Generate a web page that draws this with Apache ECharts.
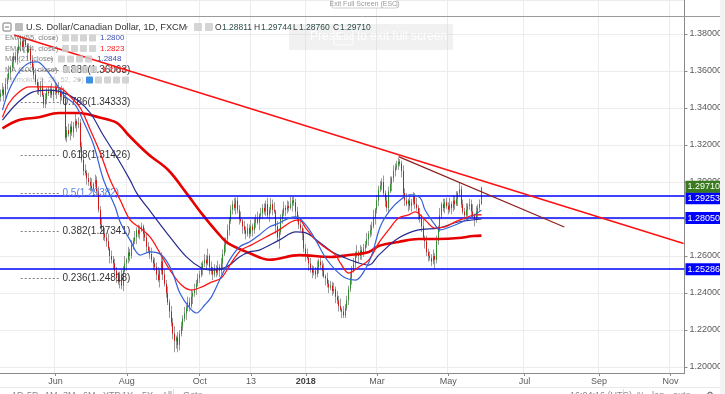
<!DOCTYPE html>
<html><head><meta charset="utf-8">
<script src="https://cdn.jsdelivr.net/npm/echarts@6/dist/echarts.min.js"></script>
<style>html,body{margin:0;padding:0;background:#fff;overflow:hidden}#c{width:725px;height:394px}</style>
</head><body><div id="c"></div>
<script>
// ---------------- DATA ----------------
const dayCount = 413; // trading-day slots on the time axis (incl. empty future space)
const tickLabels = [[33,'Jun'],[76,'Aug'],[120,'Oct'],[151,'13'],[184,'2018'],[227,'Mar'],[270,'May'],[316,'Jul'],[361,'Sep'],[404,'Nov']];

const opens = [
1.3460,1.3480,1.3500,1.3470,1.3530,1.3560,1.3590,1.3620,1.3650,1.3680,
1.3660,1.3710,1.3740,1.3760,1.3730,1.3770,1.3740,1.3700,1.3720,1.3660,
1.3620,1.3580,1.3540,1.3510,1.3490,1.3520,1.3470,1.3420,1.3450,1.3490,
1.3480,1.3500,1.3470,1.3490,1.3510,1.3480,1.3500,1.3460,1.3490,1.3450,
1.3240,1.3280,1.3260,1.3300,1.3270,1.3300,1.3330,1.3310,1.3320,1.3190,
1.3120,1.3060,1.3050,1.3020,1.3000,1.2980,1.2960,1.2990,1.3010,1.2950,
1.2850,1.2770,1.2750,1.2720,1.2700,1.2680,1.2640,1.2600,1.2580,1.2560,
1.2520,1.2480,1.2460,1.2500,1.2440,1.2520,1.2560,1.2580,1.2620,1.2600,
1.2660,1.2680,1.2700,1.2740,1.2720,1.2740,1.2760,1.2720,1.2700,1.2650,
1.2630,1.2610,1.2580,1.2560,1.2540,1.2500,1.2470,1.2520,1.2570,1.2500,
1.2450,1.2400,1.2350,1.2300,1.2240,1.2180,1.2140,1.2160,1.2120,1.2180,
1.2220,1.2260,1.2290,1.2320,1.2350,1.2330,1.2380,1.2400,1.2420,1.2450,
1.2480,1.2500,1.2530,1.2560,1.2580,1.2560,1.2600,1.2540,1.2520,1.2500,
1.2530,1.2510,1.2540,1.2520,1.2560,1.2610,1.2660,1.2690,1.2740,1.2790,
1.2850,1.2880,1.2860,1.2900,1.2850,1.2800,1.2790,1.2760,1.2740,1.2720,
1.2750,1.2720,1.2760,1.2740,1.2780,1.2800,1.2780,1.2820,1.2830,1.2860,
1.2840,1.2880,1.2820,1.2850,1.2880,1.2850,1.2840,1.2760,1.2700,1.2730,
1.2800,1.2830,1.2860,1.2850,1.2870,1.2860,1.2880,1.2900,1.2890,1.2840,
1.2800,1.2770,1.2750,1.2720,1.2640,1.2600,1.2590,1.2560,1.2530,1.2510,
1.2520,1.2500,1.2540,1.2570,1.2550,1.2520,1.2490,1.2480,1.2450,1.2430,
1.2440,1.2410,1.2420,1.2380,1.2360,1.2330,1.2310,1.2300,1.2280,1.2320,
1.2360,1.2420,1.2480,1.2530,1.2560,1.2600,1.2620,1.2600,1.2630,1.2610,
1.2640,1.2660,1.2690,1.2720,1.2740,1.2760,1.2810,1.2850,1.2900,1.2960,
1.2980,1.3000,1.2940,1.2900,1.2860,1.2950,1.2990,1.3020,1.3060,1.3080,
1.3090,1.3110,1.3100,1.3060,1.2940,1.2900,1.2880,1.2900,1.2870,1.2890,
1.2920,1.2880,1.2860,1.2830,1.2800,1.2760,1.2700,1.2680,1.2620,1.2600,
1.2590,1.2570,1.2600,1.2580,1.2680,1.2740,1.2820,1.2880,1.2860,1.2890,
1.2870,1.2850,1.2880,1.2860,1.2900,1.2880,1.2910,1.2940,1.2960,1.2880,
1.2840,1.2820,1.2850,1.2870,1.2880,1.2840,1.2820,1.2800,1.2840,1.2860,
1.28811];

const closes = [
1.3480,1.3500,1.3470,1.3530,1.3560,1.3590,1.3620,1.3650,1.3680,1.3660,
1.3710,1.3740,1.3760,1.3730,1.3770,1.3740,1.3700,1.3720,1.3660,1.3620,
1.3580,1.3540,1.3510,1.3490,1.3520,1.3470,1.3420,1.3450,1.3490,1.3480,
1.3500,1.3470,1.3490,1.3510,1.3480,1.3500,1.3460,1.3490,1.3450,1.3240,
1.3280,1.3260,1.3300,1.3270,1.3300,1.3330,1.3310,1.3320,1.3190,1.3120,
1.3060,1.3050,1.3020,1.3000,1.2980,1.2960,1.2990,1.3010,1.2950,1.2850,
1.2770,1.2750,1.2720,1.2700,1.2680,1.2640,1.2600,1.2580,1.2560,1.2520,
1.2480,1.2460,1.2500,1.2440,1.2520,1.2560,1.2580,1.2620,1.2600,1.2660,
1.2680,1.2700,1.2740,1.2720,1.2740,1.2760,1.2720,1.2700,1.2650,1.2630,
1.2610,1.2580,1.2560,1.2540,1.2500,1.2470,1.2520,1.2570,1.2500,1.2450,
1.2400,1.2350,1.2300,1.2240,1.2180,1.2140,1.2160,1.2120,1.2180,1.2220,
1.2260,1.2290,1.2320,1.2350,1.2330,1.2380,1.2400,1.2420,1.2450,1.2480,
1.2500,1.2530,1.2560,1.2580,1.2560,1.2600,1.2540,1.2520,1.2500,1.2530,
1.2510,1.2540,1.2520,1.2560,1.2610,1.2660,1.2690,1.2740,1.2790,1.2850,
1.2880,1.2860,1.2900,1.2850,1.2800,1.2790,1.2760,1.2740,1.2720,1.2750,
1.2720,1.2760,1.2740,1.2780,1.2800,1.2780,1.2820,1.2830,1.2860,1.2840,
1.2880,1.2820,1.2850,1.2880,1.2850,1.2840,1.2760,1.2700,1.2730,1.2800,
1.2830,1.2860,1.2850,1.2870,1.2860,1.2880,1.2900,1.2890,1.2840,1.2800,
1.2770,1.2750,1.2720,1.2640,1.2600,1.2590,1.2560,1.2530,1.2510,1.2520,
1.2500,1.2540,1.2570,1.2550,1.2520,1.2490,1.2480,1.2450,1.2430,1.2440,
1.2410,1.2420,1.2380,1.2360,1.2330,1.2310,1.2300,1.2280,1.2320,1.2360,
1.2420,1.2480,1.2530,1.2560,1.2600,1.2620,1.2600,1.2630,1.2610,1.2640,
1.2660,1.2690,1.2720,1.2740,1.2760,1.2810,1.2850,1.2900,1.2960,1.2980,
1.3000,1.2940,1.2900,1.2860,1.2950,1.2990,1.3020,1.3060,1.3080,1.3090,
1.3110,1.3100,1.3060,1.2940,1.2900,1.2880,1.2900,1.2870,1.2890,1.2920,
1.2880,1.2860,1.2830,1.2800,1.2760,1.2700,1.2680,1.2620,1.2600,1.2590,
1.2570,1.2600,1.2580,1.2680,1.2740,1.2820,1.2880,1.2860,1.2890,1.2870,
1.2850,1.2880,1.2860,1.2900,1.2880,1.2910,1.2940,1.2960,1.2880,1.2840,
1.2820,1.2850,1.2870,1.2880,1.2840,1.2820,1.2800,1.2840,1.2860,1.2881,
1.29710];

const highs = [
1.3500,1.3535,1.3515,1.3560,1.3585,1.3630,1.3630,1.3680,1.3700,1.3705,
1.3730,1.3775,1.3793,1.3790,1.3785,1.3780,1.3750,1.3750,1.3740,1.3685,
1.3640,1.3615,1.3555,1.3540,1.3545,1.3560,1.3480,1.3480,1.3510,1.3515,
1.3520,1.3535,1.3505,1.3540,1.3535,1.3540,1.3510,1.3520,1.3510,1.3475,
1.3300,1.3315,1.3315,1.3330,1.3325,1.3370,1.3340,1.3350,1.3340,1.3215,
1.3140,1.3095,1.3065,1.3050,1.3025,1.3020,1.3000,1.3040,1.3030,1.2975,
1.2870,1.2805,1.2765,1.2750,1.2725,1.2720,1.2650,1.2630,1.2600,1.2585,
1.2540,1.2515,1.2515,1.2530,1.2545,1.2600,1.2590,1.2650,1.2640,1.2685,
1.2700,1.2735,1.2755,1.2770,1.2765,1.2780,1.2770,1.2750,1.2720,1.2675,
1.2650,1.2645,1.2595,1.2590,1.2565,1.2540,1.2530,1.2620,1.2590,1.2525,
1.2470,1.2435,1.2365,1.2330,1.2265,1.2220,1.2170,1.2190,1.2200,1.2245,
1.2280,1.2325,1.2335,1.2380,1.2375,1.2420,1.2410,1.2450,1.2470,1.2505,
1.2520,1.2565,1.2575,1.2610,1.2605,1.2640,1.2610,1.2570,1.2540,1.2555,
1.2550,1.2575,1.2555,1.2590,1.2635,1.2700,1.2700,1.2770,1.2810,1.2875,
1.2900,1.2915,1.2916,1.2920,1.2875,1.2840,1.2800,1.2790,1.2760,1.2775,
1.2770,1.2795,1.2775,1.2810,1.2825,1.2840,1.2830,1.2860,1.2880,1.2885,
1.2900,1.2915,1.2865,1.2914,1.2905,1.2890,1.2850,1.2790,1.2750,1.2825,
1.2850,1.2895,1.2875,1.2900,1.2895,1.2920,1.2920,1.2920,1.2910,1.2865,
1.2820,1.2805,1.2765,1.2750,1.2665,1.2640,1.2600,1.2590,1.2550,1.2545,
1.2540,1.2575,1.2585,1.2600,1.2575,1.2560,1.2500,1.2510,1.2470,1.2465,
1.2460,1.2455,1.2435,1.2410,1.2385,1.2370,1.2320,1.2330,1.2340,1.2385,
1.2440,1.2515,1.2545,1.2590,1.2625,1.2660,1.2630,1.2660,1.2650,1.2665,
1.2680,1.2725,1.2735,1.2770,1.2785,1.2850,1.2860,1.2930,1.2980,1.3005,
1.3020,1.3035,1.2955,1.2930,1.2975,1.3030,1.3030,1.3090,1.3100,1.3115,
1.3130,1.3125,1.3115,1.3090,1.2965,1.2940,1.2910,1.2930,1.2910,1.2945,
1.2940,1.2915,1.2875,1.2860,1.2825,1.2800,1.2710,1.2710,1.2640,1.2625,
1.2610,1.2635,1.2615,1.2710,1.2765,1.2860,1.2890,1.2910,1.2910,1.2915,
1.2890,1.2915,1.2895,1.2930,1.2925,1.2950,1.2950,1.2995,1.2980,1.2905,
1.2860,1.2885,1.2885,1.2910,1.2905,1.2880,1.2830,1.2870,1.2880,1.2906,
1.29744];

const lows = [
1.3435,1.3465,1.3435,1.3450,1.3500,1.3550,1.3550,1.3600,1.3620,1.3645,
1.3635,1.3695,1.3705,1.3710,1.3700,1.3730,1.3660,1.3700,1.3630,1.3605,
1.3555,1.3525,1.3475,1.3470,1.3460,1.3460,1.3400,1.3400,1.3420,1.3465,
1.3455,1.3455,1.3435,1.3470,1.3450,1.3470,1.3420,1.3440,1.3420,1.3225,
1.3215,1.3245,1.3225,1.3250,1.3240,1.3290,1.3270,1.3290,1.3160,1.3105,
1.3035,1.3035,1.2985,1.2980,1.2950,1.2950,1.2920,1.2970,1.2920,1.2835,
1.2745,1.2735,1.2685,1.2680,1.2650,1.2630,1.2560,1.2560,1.2530,1.2505,
1.2455,1.2445,1.2425,1.2420,1.2410,1.2510,1.2520,1.2560,1.2570,1.2585,
1.2635,1.2665,1.2665,1.2700,1.2690,1.2730,1.2680,1.2680,1.2620,1.2615,
1.2585,1.2565,1.2525,1.2520,1.2470,1.2460,1.2430,1.2500,1.2470,1.2435,
1.2375,1.2335,1.2265,1.2220,1.2150,1.2080,1.2100,1.2080,1.2090,1.2165,
1.2195,1.2245,1.2255,1.2300,1.2300,1.2320,1.2340,1.2380,1.2390,1.2435,
1.2455,1.2485,1.2495,1.2540,1.2530,1.2550,1.2500,1.2500,1.2470,1.2485,
1.2485,1.2495,1.2485,1.2500,1.2530,1.2600,1.2620,1.2670,1.2710,1.2775,
1.2825,1.2845,1.2825,1.2830,1.2770,1.2780,1.2720,1.2720,1.2690,1.2705,
1.2695,1.2705,1.2705,1.2720,1.2750,1.2770,1.2740,1.2800,1.2800,1.2825,
1.2815,1.2805,1.2785,1.2830,1.2820,1.2830,1.2720,1.2680,1.2640,1.2715,
1.2775,1.2815,1.2815,1.2830,1.2840,1.2850,1.2840,1.2870,1.2810,1.2785,
1.2745,1.2735,1.2685,1.2620,1.2570,1.2580,1.2520,1.2510,1.2480,1.2495,
1.2475,1.2485,1.2505,1.2530,1.2490,1.2480,1.2440,1.2430,1.2400,1.2415,
1.2385,1.2395,1.2345,1.2340,1.2300,1.2300,1.2265,1.2265,1.2265,1.2305,
1.2335,1.2405,1.2445,1.2510,1.2530,1.2590,1.2560,1.2580,1.2580,1.2595,
1.2615,1.2645,1.2655,1.2700,1.2710,1.2750,1.2770,1.2830,1.2870,1.2945,
1.2955,1.2925,1.2865,1.2840,1.2830,1.2940,1.2950,1.3000,1.3030,1.3065,
1.3065,1.3085,1.3025,1.2920,1.2870,1.2870,1.2840,1.2850,1.2840,1.2875,
1.2855,1.2845,1.2795,1.2780,1.2730,1.2690,1.2640,1.2600,1.2570,1.2575,
1.2545,1.2555,1.2530,1.2560,1.2660,1.2730,1.2800,1.2840,1.2830,1.2855,
1.2825,1.2835,1.2825,1.2840,1.2850,1.2870,1.2870,1.2920,1.2860,1.2825,
1.2795,1.2805,1.2815,1.2850,1.2810,1.2810,1.2760,1.2780,1.2810,1.2845,
1.28760];

// Moving averages: [day index, value]
const ma21 = [[1,1.3389],[5,1.3497],[11,1.3595],[17,1.3643],[22,1.3649],[26,1.3622],[32,1.3551],[38,1.3470],[45,1.3416],[50,1.3324],[56,1.3200],[62,1.3011],[69,1.2865],[72,1.2784],[78,1.2686],[84,1.2605],[90,1.2622],[97,1.2605],[103,1.2524],[108,1.2400],[114,1.2319],[118,1.2292],[123,1.2335],[127,1.2378],[132,1.2470],[138,1.2578],[144,1.2649],[150,1.2676],[156,1.2714],[162,1.2757],[168,1.2778],[174,1.2805],[178,1.2811],[184,1.2768],[190,1.2686],[196,1.2589],[202,1.2524],[208,1.2481],[214,1.2470],[220,1.2530],[224,1.2610],[229,1.2760],[235,1.2849],[241,1.2903],[247,1.2930],[253,1.2914],[256,1.2849],[262,1.2768],[265,1.2741],[271,1.2757],[277,1.2778],[283,1.2805],[290,1.2848]];
const ema34 = [[1,1.3350],[5,1.3427],[11,1.3486],[17,1.3514],[23,1.3514],[29,1.3514],[36,1.3508],[42,1.3460],[48,1.3400],[54,1.3281],[60,1.3157],[66,1.3011],[72,1.2903],[78,1.2795],[84,1.2751],[90,1.2703],[96,1.2616],[102,1.2524],[109,1.2443],[115,1.2416],[121,1.2432],[127,1.2459],[133,1.2481],[139,1.2562],[145,1.2632],[151,1.2659],[160,1.2703],[168,1.2741],[175,1.2784],[180,1.2795],[184,1.2751],[190,1.2686],[196,1.2643],[202,1.2605],[205,1.2560],[210,1.2508],[216,1.2541],[222,1.2578],[228,1.2670],[234,1.2741],[240,1.2805],[246,1.2822],[250,1.2838],[256,1.2795],[262,1.2751],[268,1.2757],[274,1.2784],[280,1.2805],[286,1.2822],[290,1.2823]];
const ema55 = [[1,1.3335],[10,1.3427],[19,1.3486],[29,1.3497],[37,1.3486],[46,1.3443],[54,1.3373],[61,1.3265],[70,1.3135],[78,1.3010],[82,1.2940],[91,1.2832],[102,1.2703],[112,1.2595],[121,1.2535],[127,1.2524],[136,1.2540],[144,1.2595],[150,1.2622],[156,1.2632],[168,1.2686],[178,1.2730],[184,1.2725],[192,1.2676],[200,1.2622],[208,1.2589],[216,1.2562],[222,1.2551],[228,1.2605],[240,1.2697],[252,1.2741],[264,1.2751],[276,1.2784],[290,1.2800]];
const ma100 = [[1,1.3290],[11,1.3335],[23,1.3350],[35,1.3373],[47,1.3373],[59,1.3350],[70,1.3320],[77,1.3254],[89,1.3150],[101,1.3065],[112,1.2940],[121,1.2832],[131,1.2724],[137,1.2670],[150,1.2616],[162,1.2580],[180,1.2605],[199,1.2595],[210,1.2605],[222,1.2622],[228,1.2654],[240,1.2676],[252,1.2692],[264,1.2692],[276,1.2697],[285,1.2708],[290,1.2710]];

const trendMain = [[8,1.3795],[412,1.2668]];
const trendShort = [[240,1.3137],[340,1.2757]];
const supportLevels = [1.29253, 1.28050, 1.25286];
const lastPrice = 1.29710;
const fibLevels = [['0.886',1.36063],['0.786',1.34333],['0.618',1.31426],['0.5',1.29382],['0.382',1.27341],['0.236',1.24818]];
const fibSpan = [12, 36];

// ---------------- CHART ----------------
const FONT = 'Liberation Sans, Arial, sans-serif';
const cats = []; for (let i = 0; i < dayCount; i++) cats.push(String(i));
const labelMap = new Map(tickLabels);
const showTick = (idx) => labelMap.has(idx);
const ohlc = opens.map((o, i) => [o, closes[i], lows[i], highs[i]]);
const bodies = opens.map((o, i) => [o, closes[i], Math.min(o, closes[i]), Math.max(o, closes[i])]);

const chart = echarts.init(document.getElementById('c'));

const fibMarks = fibLevels.map(([r, v]) => ([
  { coord: [fibSpan[0], v], label: { show: true, position: 'end', distance: 2, formatter: r + '(' + v.toFixed(5) + ')',
      color: r === '0.5' ? '#5b82de' : '#333', fontSize: 10, fontFamily: FONT } },
  { coord: [fibSpan[1], v] }
]));

const boxLabel = (text, bg, dy) => ({ show: true, position: 'end', distance: 1, formatter: text, color: '#fff',
  backgroundColor: bg, padding: [2, 2, 1, 2], fontSize: 9, fontFamily: FONT, offset: [0, dy] });
const supportMarks = supportLevels.map((v, k) => ({
  yAxis: v,
  lineStyle: { color: '#0000ff', width: 1.5, type: 'solid' },
  label: boxLabel(v.toFixed(5), '#0000ff', k === 0 ? 2.5 : 0)
}));
supportMarks.push({
  yAxis: lastPrice,
  lineStyle: { color: 'rgba(0,0,0,0)', width: 1 },
  label: boxLabel(lastPrice.toFixed(5), '#3a7a1e', -0.5)
});

function maLine(name, data, color, width, z) {
  return { type: 'line', name, data, smooth: 0.35, showSymbol: false, silent: true, z,
    lineStyle: { color, width }, animation: false };
}

// overlay texts (TradingView header / legend)
const gray = 'rgba(95,95,95,0.8)';
function txt(text, x, y, fill, size, extra) {
  return Object.assign({ type: 'text', z: 100, silent: true,
    style: { text, x, y, fill, font: size + 'px ' + FONT, textVerticalAlign: 'middle', verticalAlign: 'middle' } }, extra || {});
}
function box(x, y, w, h, fill, stroke) {
  return { type: 'rect', z: 100, silent: true, shape: { x, y, width: w, height: h, r: 1 },
    style: { fill: fill, stroke: stroke || null, lineWidth: 1 } };
}
function icons(x, y, n, firstFill) {
  const out = [];
  for (let k = 0; k < n; k++) out.push(box(x + k * 9, y - 3.5, 7, 7, k === 0 && firstFill ? firstFill : 'rgba(205,205,205,0.85)'));
  return out;
}
const graphics = [
  { type: 'line', z: 99, silent: true, shape: { x1: 0, y1: 16.5, x2: 725, y2: 16.5 }, style: { stroke: '#9a9a9a', lineWidth: 1 } },
  { type: 'rect', z: 99, silent: true, shape: { x: 720, y: 0, width: 5, height: 394 }, style: { fill: '#f3f3f3' } },
  { type: 'line', z: 99, silent: true, shape: { x1: 0, y1: 387.5, x2: 720, y2: 387.5 }, style: { stroke: '#e8e8e8', lineWidth: 1 } },
  box(332, -1, 65, 9, '#fff', '#cfcfcf'),
  { type: 'text', z: 100, silent: true, style: { text: 'Exit Full Screen (ESC)', x: 364.5, y: 4, fill: '#9a9a9a', font: '7px ' + FONT, textAlign: 'center', align: 'center', textVerticalAlign: 'middle', verticalAlign: 'middle' } },
  box(289, 24, 164, 26, 'rgba(214,214,214,0.35)'),
  txt('Press', 310, 37, 'rgba(255,255,255,0.9)', 12),
  box(334, 29, 19, 16, null, 'rgba(255,255,255,0.9)'),
  txt('Esc', 336, 37, 'rgba(255,255,255,0.9)', 11),
  txt('to exit full screen', 357, 37, 'rgba(255,255,255,0.9)', 12),
  // header
  box(3, 23, 8, 8, '#fff', '#777'),
  { type: 'line', z: 101, silent: true, shape: { x1: 5, y1: 27, x2: 9, y2: 27 }, style: { stroke: '#777', lineWidth: 1 } },
  box(15, 23, 8, 8, '#bbb'),
  txt('U.S. Dollar/Canadian Dollar, 1D, FXCM', 26, 27.5, '#333', 9.2),
  txt('▾', 184, 27.5, '#999', 8),
  box(194, 23, 8, 8, '#d5d5d5'), box(205, 23, 8, 8, '#d5d5d5'),
  txt('O', 215, 27.5, '#333', 8.5), txt('1.28811', 222, 27.5, '#2d4f49', 8.5),
  txt('H', 254, 27.5, '#333', 8.5), txt('1.29744', 261, 27.5, '#2d4f49', 8.5),
  txt('L', 293, 27.5, '#333', 8.5), txt('1.28760', 299, 27.5, '#2d4f49', 8.5),
  txt('C', 333, 27.5, '#333', 8.5), txt('1.29710', 340, 27.5, '#2d4f49', 8.5),
  // indicator legend rows
  txt('EMA (55, close)', 5, 38, gray, 7.5), txt('▾', 52, 38, '#aaa', 6), ...icons(62, 38, 4), txt('1.2800', 100, 38, '#3b4fb5', 8),
  txt('EMA (34, close)', 5, 48.5, gray, 7.5), txt('▾', 52, 48.5, '#aaa', 6), ...icons(62, 48.5, 4), txt('1.2823', 100, 48.5, '#ff2020', 8),
  txt('MA (21, close)', 5, 59, gray, 7.5), txt('▾', 50, 59, '#aaa', 6), ...icons(58, 59, 4), txt('1.2848', 97, 59, '#3b4fb5', 8),
  txt('MA (100, close)', 5, 69.5, gray, 7.5), txt('▾', 54, 69.5, '#aaa', 6), ...icons(63, 69.5, 4), txt('1.2710', 102, 69.5, '#ff2020', 8),
  txt('Ichimoku (9, 26, 52, 26)', 5, 80, 'rgba(150,150,150,0.55)', 7.5), txt('▾', 78, 80, '#bbb', 6), ...icons(86, 80, 5, '#3d8fe0'),
  // bottom toolbar (cut off by the window edge)
  ...['1D','5D','1M','3M','6M','YTD','1Y','5Y','All'].map((t, k) => txt(t, [12,27,45,63,83,103,122,142,162][k], 396, '#888', 9)),
  { type: 'line', z: 99, silent: true, shape: { x1: 173.5, y1: 389, x2: 173.5, y2: 394 }, style: { stroke: '#ddd', lineWidth: 1 } },
  txt('Goto...', 183, 396, '#888', 9),
  txt('16:04:16 (UTC)', 570, 396, '#888', 9),
  { type: 'line', z: 99, silent: true, shape: { x1: 623.5, y1: 389, x2: 623.5, y2: 394 }, style: { stroke: '#ddd', lineWidth: 1 } },
  txt('%', 637, 396, '#888', 9), txt('log', 652, 396, '#888', 9), txt('auto', 673, 396, '#888', 9), txt('⚙', 706, 396, '#666', 9)
];

chart.setOption({
  animation: false,
  backgroundColor: '#ffffff',
  grid: { left: 0, right: 37, top: 0, bottom: 21, containLabel: false },
  xAxis: {
    type: 'category', data: cats, boundaryGap: true,
    axisLine: { show: true, lineStyle: { color: '#8a8a8a', width: 1 } },
    axisTick: { show: true, alignWithLabel: true, interval: showTick, length: 3, lineStyle: { color: '#8a8a8a' } },
    axisLabel: { interval: showTick, margin: 4, fontSize: 9, color: '#5a5a5a', fontFamily: FONT,
      formatter: (v) => { const t = labelMap.get(Number(v)); return t === '2018' ? '{b|2018}' : (t || ''); },
      rich: { b: { fontWeight: 'bold', fontSize: 9, color: '#444', fontFamily: FONT } } },
    splitLine: { show: true, interval: showTick, lineStyle: { color: '#ececec', width: 1 } }
  },
  yAxis: {
    type: 'value', position: 'right', min: 1.19676, max: 1.39838, splitNumber: 10, scale: true,
    axisLine: { show: true, lineStyle: { color: '#8a8a8a', width: 1 } },
    axisTick: { show: true, length: 3, lineStyle: { color: '#8a8a8a' } },
    axisLabel: { margin: 5, fontSize: 9, color: '#5a5a5a', fontFamily: FONT, showMinLabel: false, showMaxLabel: false,
      formatter: (v) => v.toFixed(5) },
    splitLine: { show: true, lineStyle: { color: '#ececec', width: 1 } }
  },
  graphic: { elements: graphics },
  series: [
    { type: 'candlestick', name: 'wicks', data: ohlc, barWidth: 1, silent: true, z: 2,
      itemStyle: { color: '#9a9a9a', color0: '#9a9a9a', borderColor: '#9a9a9a', borderColor0: '#9a9a9a', borderWidth: 1 },
      markLine: { silent: true, symbol: ['none', 'none'], animation: false, precision: 5,
        lineStyle: { color: '#808080', width: 1, type: [2, 2] }, data: fibMarks } },
    { type: 'candlestick', name: 'USDCAD', data: bodies, barWidth: 1, silent: true, z: 3,
      itemStyle: { color: '#2f8f2f', color0: '#d01818', borderColor: '#2f8f2f', borderColor0: '#d01818', borderWidth: 1 },
      markLine: { silent: true, symbol: ['none', 'none'], animation: false, precision: 5, data: supportMarks } },
    maLine('MA (100, close)', ma100, '#e60000', 2.6, 4),
    maLine('EMA (55, close)', ema55, '#262a8f', 1.2, 5),
    maLine('EMA (34, close)', ema34, '#ff1414', 1.3, 5),
    maLine('MA (21, close)', ma21, '#3460d8', 1.2, 6),
    { type: 'line', name: 'trend', data: trendMain, showSymbol: false, silent: true, z: 7,
      lineStyle: { color: '#ff1010', width: 1.5 } },
    { type: 'line', name: 'trend2', data: trendShort, showSymbol: false, silent: true, z: 7,
      lineStyle: { color: '#8e1f1f', width: 1.2 } }
  ]
});
</script>
</body></html>
